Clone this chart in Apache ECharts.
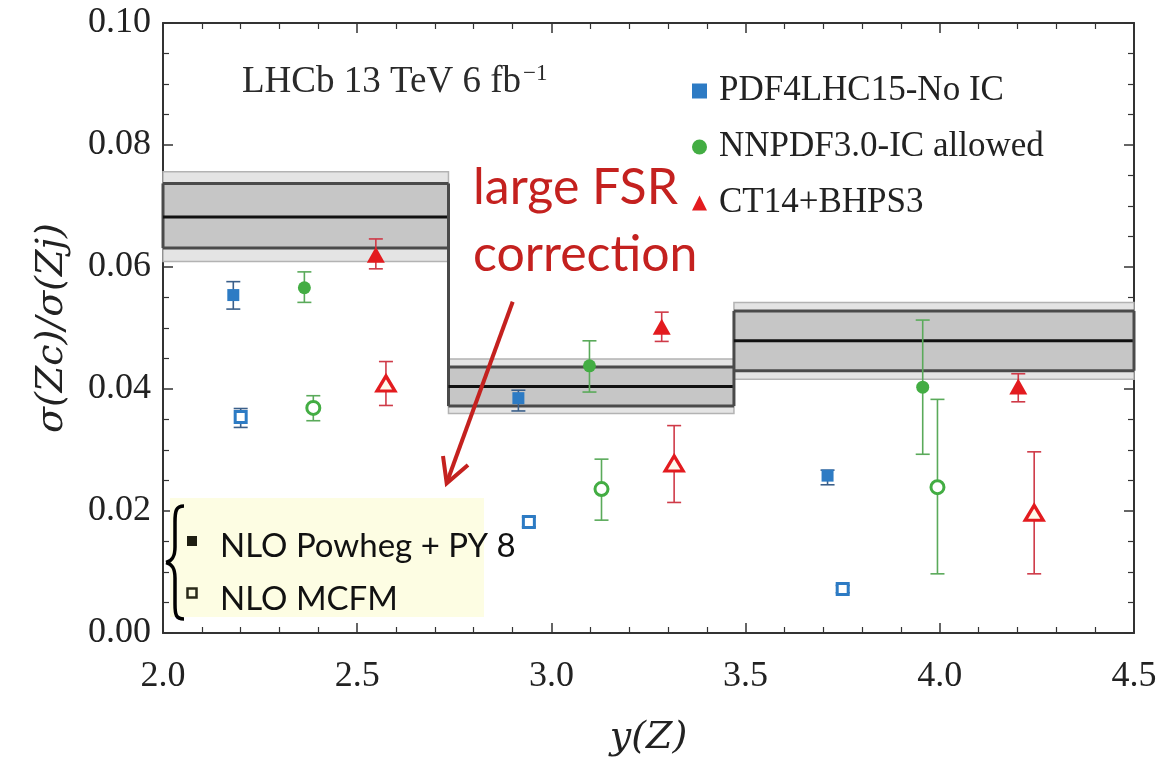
<!DOCTYPE html>
<html>
<head>
<meta charset="utf-8">
<script src="https://cdn.jsdelivr.net/npm/echarts@6/dist/echarts.min.js"></script>
<style>
  html, body { margin: 0; padding: 0; background: #fff; }
  #chart { width: 1168px; height: 760px; }
</style>
</head>
<body>
<div id="chart"></div>
<script>
// LHCb measurement, bins in y(Z)
const binLo = [2.0, 2.735, 3.47];
const binHi = [2.735, 3.47, 4.5];
const lhcbCentral = [0.0682, 0.0404, 0.0479];
const statLo = [0.0631, 0.0372, 0.0430];
const statHi = [0.0737, 0.0436, 0.0528];
const totLo = [0.0609, 0.0360, 0.0416];
const totHi = [0.0756, 0.0449, 0.0542];

// predictions: [x, value, errLow, errHigh]
const pdfPowheg = [[2.181, 0.0554, 0.0531, 0.0576], [2.915, 0.0385, 0.0364, 0.0398], [3.711, 0.0258, 0.0243, 0.0267]];
const pdfMcfm = [[2.200, 0.0354, 0.0337, 0.0368], [2.942, 0.0182, 0.0174, 0.0190], [3.750, 0.0072, 0.0066, 0.0078]];
const nnpdfPowheg = [[2.364, 0.0566, 0.0542, 0.0592], [3.098, 0.0438, 0.0395, 0.0479], [3.956, 0.0403, 0.0293, 0.0513]];
const nnpdfMcfm = [[2.387, 0.0369, 0.0348, 0.0389], [3.129, 0.0236, 0.0185, 0.0285], [3.994, 0.0239, 0.0097, 0.0383]];
const ctPowheg = [[2.548, 0.0620, 0.0597, 0.0646], [3.284, 0.0502, 0.0478, 0.0526], [4.202, 0.0404, 0.0379, 0.0425]];
const ctMcfm = [[2.574, 0.0409, 0.0373, 0.0445], [3.316, 0.0278, 0.0214, 0.0340], [4.243, 0.0197, 0.0097, 0.0297]];

const BLUE = '#2d7bc4', GREEN = '#43ad43', RED = '#e31b1f';
const SERIF = "'Liberation Serif', 'Times New Roman', serif";
const MATH = "'DejaVu Serif', serif";
const SANS = "Lato, 'Open Sans', sans-serif";

const myChart = echarts.init(document.getElementById('chart'));

function errBars(color) {
  return function (params, api) {
    const x = api.value(0);
    const top = api.coord([x, api.value(3)]);
    const bot = api.coord([x, api.value(2)]);
    const w = 7;
    const st = { stroke: color, lineWidth: 1.6 };
    return {
      type: 'group',
      children: [
        { type: 'line', shape: { x1: top[0], y1: top[1], x2: bot[0], y2: bot[1] }, style: st },
        { type: 'line', shape: { x1: top[0] - w, y1: top[1], x2: top[0] + w, y2: top[1] }, style: st },
        { type: 'line', shape: { x1: bot[0] - w, y1: bot[1], x2: bot[0] + w, y2: bot[1] }, style: st }
      ]
    };
  };
}

function errSeries(data, color) {
  return { type: 'custom', data: data, renderItem: errBars(color), encode: { x: 0, y: [2, 3] }, z: 4, silent: true };
}

function outerBand(params, api) {
  const i = params.dataIndex;
  const p0 = api.coord([binLo[i], totHi[i]]);
  const p1 = api.coord([binHi[i], totLo[i]]);
  return {
    type: 'rect',
    shape: { x: p0[0], y: p0[1], width: p1[0] - p0[0], height: p1[1] - p0[1] },
    style: { fill: '#e4e4e4', stroke: '#b3b3b3', lineWidth: 1.5 }
  };
}

function innerBand(params, api) {
  const i = params.dataIndex;
  const p0 = api.coord([binLo[i], statHi[i]]);
  const p1 = api.coord([binHi[i], statLo[i]]);
  const c = api.coord([binLo[i], lhcbCentral[i]]);
  const j = i > 0 ? i - 1 : i;
  const vTop = api.coord([binLo[i], Math.max(statHi[i], statHi[j])]);
  const vBot = api.coord([binLo[i], Math.min(statLo[i], statLo[j])]);
  const edge = { stroke: '#4a4a4a', lineWidth: 3 };
  const children = [
    { type: 'rect', shape: { x: p0[0], y: p0[1], width: p1[0] - p0[0], height: p1[1] - p0[1] }, style: { fill: '#c6c6c6' } },
    { type: 'line', shape: { x1: p0[0], y1: p0[1], x2: p1[0], y2: p0[1] }, style: edge },
    { type: 'line', shape: { x1: p0[0], y1: p1[1], x2: p1[0], y2: p1[1] }, style: edge },
    { type: 'line', shape: { x1: vTop[0], y1: vTop[1], x2: vBot[0], y2: vBot[1] }, style: edge },
    { type: 'line', shape: { x1: p0[0], y1: c[1], x2: p1[0], y2: c[1] }, style: { stroke: '#111', lineWidth: 3 } }
  ];
  if (i === binLo.length - 1) {
    children.push({ type: 'line', shape: { x1: p1[0], y1: p0[1], x2: p1[0], y2: p1[1] }, style: edge });
  }
  return { type: 'group', children: children };
}

const bandData = binLo.map((b, i) => [b, lhcbCentral[i], binHi[i]]);

const axisFont = { fontFamily: SERIF, fontSize: 36, color: '#222' };
const nameFont = { fontFamily: MATH, fontSize: 38, fontStyle: 'italic', color: '#222' };
const tickBase = { show: true, inside: true, length: 10, lineStyle: { color: '#333', width: 1.5 } };
const minorBase = { show: true, length: 6, lineStyle: { color: '#333', width: 1.2 } };

const braceStyle = { stroke: '#000', lineWidth: 3.5, fill: null };
function brace(type, shape) {
  return { type: type, z: 9, shape: shape, style: braceStyle };
}

const option = {
  animation: false,
  grid: { left: 163, right: 34, top: 23, bottom: 127, containLabel: false, outerBoundsMode: 'none' },
  legend: {
    orient: 'vertical',
    left: 687,
    top: 66,
    itemWidth: 15,
    itemHeight: 15,
    itemGap: 16,
    textStyle: { fontFamily: SERIF, fontSize: 35, color: '#222', lineHeight: 40, padding: [0, 0, 0, 7] },
    data: [
      { name: 'PDF4LHC15-No IC', icon: 'rect' },
      { name: 'NNPDF3.0-IC allowed', icon: 'circle' },
      { name: 'CT14+BHPS3', icon: 'triangle' }
    ]
  },
  xAxis: [
    {
      type: 'value', min: 2, max: 4.5, interval: 0.5,
      name: 'y(Z)', nameLocation: 'middle', nameGap: 86,
      nameTextStyle: nameFont,
      axisLine: { lineStyle: { color: '#333', width: 2 } },
      axisTick: tickBase,
      minorTick: Object.assign({ splitNumber: 5 }, minorBase),
      axisLabel: Object.assign({ margin: 26, formatter: v => v.toFixed(1) }, axisFont),
      splitLine: { show: false }
    },
    {
      type: 'value', min: 2, max: 4.5, interval: 0.5, position: 'top',
      axisLine: { show: true, onZero: false, lineStyle: { color: '#333', width: 2 } },
      axisTick: tickBase,
      minorTick: Object.assign({ splitNumber: 5 }, minorBase),
      axisLabel: { show: false },
      splitLine: { show: false }
    }
  ],
  yAxis: [
    {
      type: 'value', min: 0, max: 0.1, interval: 0.02,
      name: 'σ(Zc)/σ(Zj)', nameLocation: 'middle', nameGap: 92, nameRotate: 90,
      nameTextStyle: nameFont,
      axisLine: { show: true, lineStyle: { color: '#333', width: 2 } },
      axisTick: tickBase,
      minorTick: Object.assign({ splitNumber: 4 }, minorBase),
      axisLabel: Object.assign({ margin: 12, formatter: v => v.toFixed(2) }, axisFont),
      splitLine: { show: false }
    },
    {
      type: 'value', min: 0, max: 0.1, interval: 0.02, position: 'right',
      axisLine: { show: true, onZero: false, lineStyle: { color: '#333', width: 2 } },
      axisTick: tickBase,
      minorTick: Object.assign({ splitNumber: 4 }, minorBase),
      axisLabel: { show: false },
      splitLine: { show: false }
    }
  ],
  graphic: [
    {
      type: 'text', x: 242, y: 62, z: 10,
      style: {
        text: '{a|LHCb 13 TeV 6 fb}{s|−1}',
        rich: {
          a: { fontFamily: SERIF, fontSize: 37, fill: '#2a2a2a' },
          s: { fontFamily: SERIF, fontSize: 23, fill: '#2a2a2a', padding: [0, 0, 18, 2] }
        }
      }
    },
    {
      type: 'text', x: 473, y: 221, z: 10,
      style: {
        text: 'large FSR\ncorrection', fontFamily: SANS, fontSize: 50, lineHeight: 67,
        fill: '#c4211f', verticalAlign: 'middle', align: 'left'
      }
    },
    {
      type: 'line', z: 10,
      shape: { x1: 512.7, y1: 301.7, x2: 447, y2: 482 },
      style: { stroke: '#c4211f', lineWidth: 4 }
    },
    {
      type: 'polyline', z: 10,
      shape: { points: [[443, 456], [446.7, 483.3], [468, 465]] },
      style: { stroke: '#c4211f', lineWidth: 4, fill: null, lineJoin: 'miter' }
    },
    {
      type: 'rect', z: 8,
      shape: { x: 170, y: 498, width: 314, height: 119 },
      style: { fill: '#fdfde3' }
    },
    brace('bezierCurve', { x1: 184, y1: 506, cpx1: 176, cpy1: 506, cpx2: 175, cpy2: 511, x2: 175, y2: 522 }),
    brace('line', { x1: 175, y1: 522, x2: 175, y2: 547 }),
    brace('bezierCurve', { x1: 175, y1: 547, cpx1: 175, cpy1: 557, cpx2: 172, cpy2: 561, x2: 166, y2: 562.5 }),
    brace('bezierCurve', { x1: 166, y1: 562.5, cpx1: 172, cpy1: 564, cpx2: 175, cpy2: 568, x2: 175, y2: 578 }),
    brace('line', { x1: 175, y1: 578, x2: 175, y2: 604 }),
    brace('bezierCurve', { x1: 175, y1: 604, cpx1: 175, cpy1: 615, cpx2: 176, cpy2: 619, x2: 184, y2: 619 }),
    {
      type: 'rect', z: 9,
      shape: { x: 187, y: 536, width: 10, height: 10 },
      style: { fill: '#1e1e12' }
    },
    {
      type: 'rect', z: 9,
      shape: { x: 187.5, y: 588.5, width: 9, height: 9 },
      style: { fill: '#fdfde3', stroke: '#2a2a1a', lineWidth: 2.5 }
    },
    {
      type: 'text', x: 220, y: 546, z: 9,
      style: { text: 'NLO Powheg + PY 8', fontFamily: SANS, fontSize: 33, fill: '#111', verticalAlign: 'middle' }
    },
    {
      type: 'text', x: 220, y: 599, z: 9,
      style: { text: 'NLO MCFM', fontFamily: SANS, fontSize: 33, fill: '#111', verticalAlign: 'middle' }
    }
  ],
  series: [
    { type: 'custom', name: 'total', data: bandData, renderItem: outerBand, encode: { x: [0, 2], y: 1 }, z: 1, silent: true },
    { type: 'custom', name: 'stat', data: bandData, renderItem: innerBand, encode: { x: [0, 2], y: 1 }, z: 2, silent: true },
    errSeries(pdfPowheg, '#3a5f8a'),
    errSeries(pdfMcfm, '#3a5f8a'),
    errSeries(nnpdfPowheg, '#5aaa5a'),
    errSeries(nnpdfMcfm, '#5aaa5a'),
    errSeries(ctPowheg, '#cf3a48'),
    errSeries(ctMcfm, '#cf3a48'),
    {
      name: 'PDF4LHC15-No IC', type: 'scatter', data: pdfPowheg, encode: { x: 0, y: 1 },
      symbol: 'rect', symbolSize: 12, itemStyle: { color: BLUE, opacity: 1 }, z: 5
    },
    {
      name: 'PDF4LHC15 MCFM', type: 'scatter', data: pdfMcfm, encode: { x: 0, y: 1 },
      symbol: 'rect', symbolSize: 11, itemStyle: { color: '#fff', borderColor: BLUE, borderWidth: 3, opacity: 1 }, z: 5
    },
    {
      name: 'NNPDF3.0-IC allowed', type: 'scatter', data: nnpdfPowheg, encode: { x: 0, y: 1 },
      symbol: 'circle', symbolSize: 13, itemStyle: { color: GREEN, opacity: 1 }, z: 5
    },
    {
      name: 'NNPDF3.0 MCFM', type: 'scatter', data: nnpdfMcfm, encode: { x: 0, y: 1 },
      symbol: 'circle', symbolSize: 13, itemStyle: { color: '#fff', borderColor: GREEN, borderWidth: 3, opacity: 1 }, z: 5
    },
    {
      name: 'CT14+BHPS3', type: 'scatter', data: ctPowheg, encode: { x: 0, y: 1 },
      symbol: 'triangle', symbolSize: [18, 16], itemStyle: { color: RED, opacity: 1 }, z: 5
    },
    {
      name: 'CT14 MCFM', type: 'scatter', data: ctMcfm, encode: { x: 0, y: 1 },
      symbol: 'triangle', symbolSize: [18, 15], itemStyle: { color: '#fff8ea', borderColor: RED, borderWidth: 3.2, opacity: 1 }, z: 5
    }
  ]
};

myChart.setOption(option);
window.addEventListener('resize', function () {
  myChart.resize();
});
</script>
</body>
</html>
